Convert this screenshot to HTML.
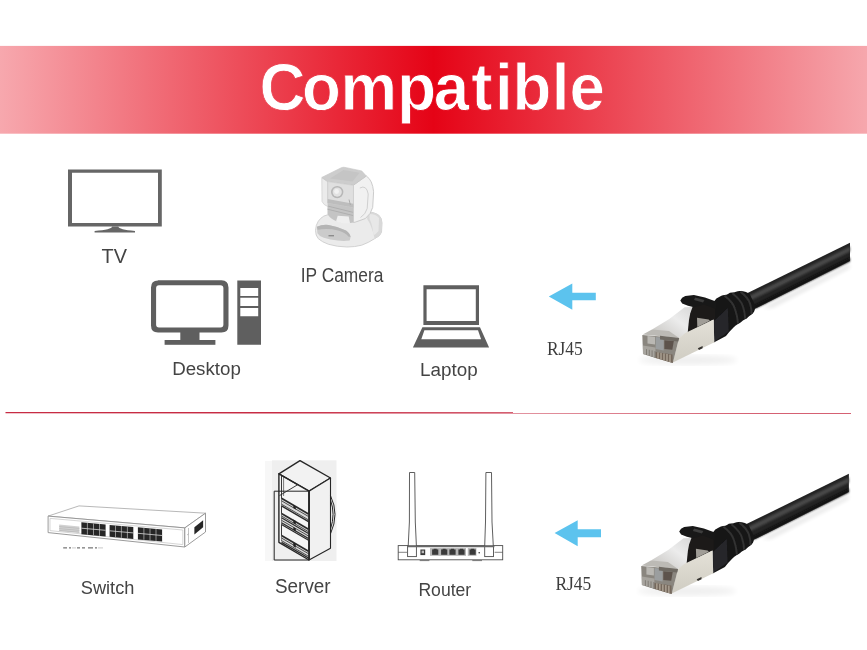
<!DOCTYPE html>
<html><head><meta charset="utf-8"><title>Compatible</title>
<style>
html,body{margin:0;padding:0;background:#fff;}
body{width:867px;height:650px;overflow:hidden;position:relative;font-family:"Liberation Sans",sans-serif;}
svg{position:absolute;left:0;top:0;display:block;}
text{font-family:"Liberation Sans",sans-serif;}
.serif{font-family:"Liberation Serif",serif;}
</style></head><body>
<svg width="867" height="650" viewBox="0 0 867 650" style="will-change:transform;opacity:0.999">
<defs>
  <linearGradient id="gBan" x1="0" x2="1" y1="0" y2="0">
    <stop offset="0" stop-color="#f7a8ae"/>
    <stop offset="0.5" stop-color="#e50316"/>
    <stop offset="1" stop-color="#f6a7ad"/>
  </linearGradient>
  <linearGradient id="gBanU" gradientUnits="userSpaceOnUse" x1="0" x2="900.3" y1="0" y2="0">
    <stop offset="0" stop-color="#f7a8ae"/>
    <stop offset="0.5" stop-color="#e50316"/>
    <stop offset="1" stop-color="#f6a7ad"/>
  </linearGradient>
  <linearGradient id="gTop" x1="0" x2="1" y1="1" y2="0">
    <stop offset="0" stop-color="#c4c2be"/>
    <stop offset="0.6" stop-color="#ececec"/>
    <stop offset="1" stop-color="#d8d8d8"/>
  </linearGradient>
  <linearGradient id="gSide" x1="0" x2="0" y1="0" y2="1">
    <stop offset="0" stop-color="#e4e1d8"/>
    <stop offset="1" stop-color="#cfccc2"/>
  </linearGradient>
  <filter id="blur1"><feGaussianBlur stdDeviation="0.8"/></filter>
  <filter id="blur05"><feGaussianBlur stdDeviation="0.5"/></filter>
  <filter id="blur3" x="-20%" y="-50%" width="140%" height="200%"><feGaussianBlur stdDeviation="2"/></filter>
  <filter id="blur2"><feGaussianBlur stdDeviation="3"/></filter>
</defs>

<!-- banner -->
<rect x="0" y="45.9" width="867" height="87.8" fill="url(#gBan)"/>
<text transform="scale(0.963,1)" x="269.42 313.60 353.58 412.51 450.47 489.36 514.02 532.14 572.85 591.38" y="109.7" font-size="66" font-weight="bold" fill="#fff" stroke="url(#gBanU)" stroke-width="0.8">Compatible</text>

<!-- divider -->
<line x1="5.5" y1="412.6" x2="851" y2="413" stroke="#c72c44" stroke-width="1.4"/>

<!-- TV -->
<g fill="#666">
  <path fill-rule="evenodd" d="M68,169.5 H161.8 V226.5 H68 Z M72,172.7 V223.1 H158 V172.7 Z"/>
  <path d="M112.2,226.5 H118.3 Q118.8,229.6 135,231 V232.5 H94.6 V231 Q111.7,229.6 112.2,226.5 Z"/>
</g>
<text x="101.6" y="263.1" font-size="20.8" fill="#444" textLength="25.4" lengthAdjust="spacingAndGlyphs">TV</text>

<!-- IP camera -->
<g stroke-linejoin="round">
  <!-- base -->
  <path d="M315.5,230.4 Q315.8,225 318.3,221.2 Q320.5,218 323.8,216.1 Q335,211.5 352,212 L367.2,212 Q374,211.8 378.3,214.8 Q382,217.5 382,223 L381.5,232.3 Q380.5,236 374.6,238.7 Q369,242.5 361.7,245.2 Q355,247 346.9,247 Q337,246.8 328.5,244.3 Q322,242 318.3,238.7 Q315.5,235.5 315.5,230.4 Z" fill="#ebebeb" stroke="#cdcdcd" stroke-width="0.9"/>
  <path d="M367.2,212 Q374,211.8 378.3,214.8 Q382,217.5 382,223 L381.5,232.3 Q380.5,236 374.6,238.7 Q372,226 367.2,219 Z" fill="#d9d9d9"/>
  <path d="M369.5,214 Q376,214 379,218 L378.5,231 Q376,234 373.5,235.5 Q372.5,224 369.5,219 Z" fill="#e8e8e8"/>
  <!-- base front panel -->
  <path d="M316.9,226.8 Q322,224.3 328.5,224.9 Q338,226.5 346,230.4 Q350,233 350.6,236.9 L349.7,240.6 Q344,241.3 337.7,240.6 Q330,239.8 323.8,237.8 Q319,236 317.4,233.2 Z" fill="#cbcbcb"/>
  <path d="M316.9,226.8 Q322,224.3 328.5,224.9 Q338,226.5 346,230.4 Q350,233 350.6,236.9 L348.3,236.6 Q346,233 338,230.5 Q328,228 317.6,229.8 Z" fill="#b4b4b4"/>
  <rect x="328.5" y="235" width="5.5" height="1.4" fill="#8c8c8c"/>
  <!-- neck -->
  <path d="M327.5,200 L353.4,205 V222.5 Q345,224 337,221.5 Q330,219 327.5,214 Z" fill="#c4c4c4"/>
  <path d="M327.5,206 L353.4,212.4 M327.5,209.2 L353.4,215.6" stroke="#adadad" stroke-width="0.9" fill="none"/>
  <path d="M337.7,215.7 L348.7,216.5 L350,223.1 Q343,224 336,221.5 Z" fill="#efefef"/>
  <!-- right yoke arm -->
  <path d="M353.4,185.2 L366.3,176 Q372.5,180 373.6,191.7 L372.7,207.4 Q371,214 365.4,218.5 L358,221.2 Q354.5,222.5 353.4,222.5 Z" fill="#f1f1f1" stroke="#c6c6c6" stroke-width="0.9"/>
  <path d="M359.8,188 Q366.5,184.5 368.2,194 L367.2,208.5 Q365.5,214.5 360.5,217.5" fill="none" stroke="#d0d0d0" stroke-width="1"/>
  <!-- left yoke strip -->
  <path d="M321.8,177.8 L327.7,181.5 V206.5 Q323.5,205 322,201.5 Z" fill="#ebebeb" stroke="#cfcfcf" stroke-width="0.7"/>
  <!-- head top -->
  <path d="M321.8,177.4 L341.4,167.7 Q343,167 345,167.4 L361.7,170.9 L366.3,176 L353.4,185.2 L327.5,181.5 Z" fill="#cdcdcd" stroke="#c2c2c2" stroke-width="0.6"/>
  <path d="M330,178.5 L343.5,170 L359.5,172.8 L352.5,181.5 Z" fill="#c5c5c5"/>
  <!-- head front -->
  <path d="M327.7,181.6 L353.4,185.3 V207.6 L327.7,202.9 Z" fill="#dfdfdf" stroke="#cacaca" stroke-width="0.6"/>
  <path d="M327.7,199 L353.4,203.8 V207.6 L327.7,202.9 Z" fill="#bdbdbd"/>
  <circle cx="337.2" cy="192.1" r="6.2" fill="#b7b7b7"/>
  <circle cx="337.2" cy="192.1" r="4.6" fill="#e2e2e2"/>
  <circle cx="336.6" cy="191.5" r="2.4" fill="#f2f2f2"/>
  <path d="M349,199.5 L350.4,205" stroke="#a8a8a8" stroke-width="0.9"/>
</g>
<text x="300.8" y="282.1" font-size="19.5" fill="#444" textLength="82.6" lengthAdjust="spacingAndGlyphs">IP Camera</text>

<!-- Desktop -->
<g fill="#5f5f5f">
  <path fill-rule="evenodd" d="M158,280.3 H221.5 Q228.5,280.5 228.5,287.5 V325.5 Q228.5,332.5 221.5,332.5 H158 Q151,332.5 151,325.5 V287.5 Q151,280.5 158,280.5 Z M159,285.2 Q156.1,285.2 156.1,288.2 V324.6 Q156.1,327.6 159,327.6 H220.4 Q223.4,327.6 223.4,324.6 V288.2 Q223.4,285.2 220.4,285.2 Z"/>
  <rect x="180.3" y="332" width="19.2" height="9"/>
  <rect x="164.6" y="340" width="50.8" height="4.8"/>
  <path fill-rule="evenodd" d="M237.3,280.5 H261 V344.8 H237.3 Z M240.3,288 H258.2 V296 H240.3 Z M240.3,297.8 H258.2 V306 H240.3 Z M240.3,308 H258.2 V316.2 H240.3 Z"/>
</g>
<text x="172.2" y="375" font-size="19.2" fill="#444" textLength="68.6" lengthAdjust="spacingAndGlyphs">Desktop</text>

<!-- Laptop -->
<g fill="#5f5f5f">
  <path fill-rule="evenodd" d="M423.4,285.3 H479 V325 H423.4 Z M426.6,289.3 V321 H475.8 V289.3 Z"/>
  <path fill-rule="evenodd" d="M422.4,327.2 H480 L489.1,347.5 H412.9 Z M424.4,330.3 L421.3,339.2 H481.1 L478,330.3 Z"/>
</g>
<text x="420" y="375.5" font-size="19.2" fill="#444" textLength="57.6" lengthAdjust="spacingAndGlyphs">Laptop</text>

<!-- arrows -->
<polygon points="548.8,296.6 572.3,283.5 572.3,292.8 595.8,292.8 595.8,300.3 572.3,300.3 572.3,309.7" fill="#5cc3ee"/>
<text class="serif" x="546.9" y="354.6" font-size="18.7" fill="#3c3c3c" textLength="35.8" lengthAdjust="spacingAndGlyphs">RJ45</text>
<polygon points="554.6,533 577.7,520.3 577.7,529.2 601,529.2 601,537.2 577.7,537.2 577.7,546.2" fill="#5cc3ee"/>
<text class="serif" x="555.4" y="590" font-size="18.7" fill="#3c3c3c" textLength="35.8" lengthAdjust="spacingAndGlyphs">RJ45</text>

<!-- Switch -->
<g fill="none" stroke="#8f8f8f" stroke-width="0.9">
  <polygon points="48.1,516.1 79,505.9 205.5,513.2 184.8,527.9" fill="#fff" stroke="#b0b0b0"/>
  <polygon points="48.1,516.1 184.8,527.9 184.8,547 48.1,532.6" fill="#fff"/>
  <polygon points="184.8,527.9 205.5,513.2 205.5,532 184.8,547" fill="#fff"/>
  <polygon points="50,518.4 182.8,530 182.8,544.6 50,530.6" stroke="#c4c4c4" stroke-width="0.7"/>
  <path d="M188.5,528 V543 M187,535 l2,-1.4" stroke="#aaa" stroke-width="0.7"/>
</g>
<polygon points="59.2,524.6 79.4,526.4 79.4,533 59.2,531.2" fill="#d2d2d2"/>
<path d="M59.2,526.6 L79.4,528.4 M59.2,528.6 L79.4,530.4 M59.2,530.4 L79.4,532.2" stroke="#b0b0b0" stroke-width="0.6"/>
<g fill="#262626">
  <polygon points="81.4,522.3 105.6,524.4 105.6,536.4 81.4,534.2"/>
  <polygon points="109.6,524.9 133.3,527 133.3,539 109.6,536.8"/>
  <polygon points="137.9,527.3 162.1,529.5 162.1,541.6 137.9,539.4"/>
  <polygon points="194.4,527.3 203.1,520.2 203.1,527.3 194.4,534.4"/>
</g>
<g stroke="#d8d8d8" stroke-width="0.8" fill="none">
  <path d="M81.4,528.2 L105.6,530.3 M109.6,530.8 L133.3,532.9 M137.9,533.3 L162.1,535.5"/>
  <path d="M87.4,523 V534.6 M93.5,523.5 V535.2 M99.5,524 V535.8 M115.5,525.5 V537.2 M121.4,526 V537.8 M127.4,526.5 V538.4 M143.9,528 V539.8 M150,528.5 V540.4 M156,529 V541" stroke-width="0.6"/>
</g>
<path d="M63.2,547.9 H67 M69,547.9 H71 M77,547.9 H80 M82,547.9 H85 M88,547.9 H93 M95,547.9 H97" stroke="#555" stroke-width="1"/>
<path d="M72,547.9 H76 M98,547.9 H103" stroke="#bbb" stroke-width="0.8"/>
<text x="80.8" y="594" font-size="19.2" fill="#444" textLength="53.6" lengthAdjust="spacingAndGlyphs">Switch</text>

<!-- Server -->
<rect x="272" y="460.3" width="64.5" height="100.7" fill="#efefef"/>
<rect x="265" y="461" width="7" height="100" fill="#f7f7f7"/>
<g fill="none" stroke="#262626" stroke-width="1.4" stroke-linejoin="round">
  <polygon points="278.9,473.8 300,460.7 330.5,478 309,491.2" fill="#f2f2f2"/>
  <polygon points="309,491.2 330.5,478 330.5,548.2 309,560" fill="#f1f1f1" stroke-width="1.1"/>
  <polygon points="278.9,473.8 309,491.2 309,560 278.9,542.3" fill="#f5f5f5"/>
  <path d="M281.5,475.4 V541.4" stroke-width="0.9"/>
  <path d="M281.5,475.4 L297.5,484.8 L279.5,495.6" stroke-width="0.9"/>
  <path d="M283.6,477 V496" stroke-width="0.6"/>
</g>
<polygon points="281.5,498.3 308.5,514.0 308.5,521.6 281.5,505.9" fill="#d9d9d9"/>
<polygon points="281.5,513.5 308.5,529.2 308.5,540.2 281.5,524.5" fill="#d9d9d9"/>
<polygon points="281.5,535.5 308.5,551.2 308.5,558.0 281.5,542.3" fill="#d9d9d9"/>
<path d="M281.5,498.3 L308.5,514.0" stroke="#2a2a2a" stroke-width="1.6"/>
<path d="M281.5,500.8 L308.5,516.5" stroke="#2a2a2a" stroke-width="0.8"/>
<path d="M281.5,504.2 L308.5,519.9" stroke="#2a2a2a" stroke-width="0.8"/>
<path d="M281.5,505.9 L308.5,521.6" stroke="#2a2a2a" stroke-width="1.4"/>
<path d="M281.5,513.5 L308.5,529.2" stroke="#2a2a2a" stroke-width="1.6"/>
<path d="M281.5,516.0 L308.5,531.7" stroke="#2a2a2a" stroke-width="0.8"/>
<path d="M281.5,517.7 L308.5,533.4" stroke="#2a2a2a" stroke-width="1.2"/>
<path d="M281.5,520.3 L308.5,536.0" stroke="#2a2a2a" stroke-width="0.8"/>
<path d="M281.5,522.8 L308.5,538.5" stroke="#2a2a2a" stroke-width="1.2"/>
<path d="M281.5,524.5 L308.5,540.2" stroke="#2a2a2a" stroke-width="1.2"/>
<path d="M281.5,535.5 L308.5,551.2" stroke="#2a2a2a" stroke-width="1.6"/>
<path d="M281.5,538.0 L308.5,553.7" stroke="#2a2a2a" stroke-width="0.8"/>
<path d="M281.5,540.6 L308.5,556.3" stroke="#2a2a2a" stroke-width="0.8"/>
<path d="M281.5,542.3 L308.5,558.0" stroke="#2a2a2a" stroke-width="1.4"/>

<g fill="#222">
  <polygon points="293.3,505 295.8,506.5 295.8,509.5 293.3,508"/>
  <polygon points="293.3,519.4 295.8,520.9 295.8,524.4 293.3,522.9"/>
  <polygon points="293.3,527 295.8,528.5 295.8,531.5 293.3,530"/>
  <polygon points="293.3,542.3 295.8,543.8 295.8,547.8 293.3,546.3"/>
</g>
<g fill="none" stroke="#262626" stroke-width="1.1">
  <path d="M309,491.2 V560" stroke-width="1.3"/>
  <polygon points="274.2,491.2 309,491.2 309,560 274.2,560" stroke-width="1"/>
  <path d="M330.5,495.7 Q339.5,514 330.5,533.8 M330.5,500 Q335.6,514 330.5,529" stroke-width="1"/>
</g>
<text x="275" y="592.5" font-size="20" fill="#444" textLength="55.6" lengthAdjust="spacingAndGlyphs">Server</text>

<!-- Router -->
<g fill="#fff" stroke="#4d4d4d" stroke-width="0.9">
  <rect x="398.2" y="545.6" width="104.5" height="14.2"/>
  <path d="M398.2,552.3 H407 M494.6,552.3 H502.7" stroke-width="0.7"/>
  <polygon points="409.5,472.5 414.7,472.5 415.3,522 416.4,546 408.2,546 409.4,522"/>
  <polygon points="485.9,472.5 491.5,472.5 492,522 493.3,546 484.7,546 485.5,522"/>
  <rect x="407.6" y="546" width="8.8" height="10.6"/>
  <rect x="484.7" y="546" width="8.8" height="10.6"/>
  <path d="M407,546.6 H494.4" stroke-width="1.2" stroke="#666"/>
  <path d="M419.7,560.6 H429.4 M472.3,560.6 H482" stroke-width="1" stroke="#777"/>
</g>
<rect x="430" y="548.1" width="36" height="7.7" fill="#b5b5b5"/>
<rect x="467.8" y="548.1" width="8.6" height="7.7" fill="#b5b5b5"/>
<rect x="420.4" y="549.5" width="4.8" height="5.6" fill="#3a3a3a"/>
<rect x="421.6" y="550.6" width="2.4" height="2.6" fill="#bbb"/>
<circle cx="479.2" cy="552.7" r="0.8" fill="#333"/>
<rect x="432.1" y="549.4" width="6.2" height="5.4" fill="#3a3a3a"/>
<rect x="433.7" y="548.8" width="3.0" height="1.6" fill="#3a3a3a"/>
<rect x="441.1" y="549.4" width="6.2" height="5.4" fill="#3a3a3a"/>
<rect x="442.7" y="548.8" width="3.0" height="1.6" fill="#3a3a3a"/>
<rect x="449.4" y="549.4" width="6.2" height="5.4" fill="#3a3a3a"/>
<rect x="451.0" y="548.8" width="3.0" height="1.6" fill="#3a3a3a"/>
<rect x="458.4" y="549.4" width="6.2" height="5.4" fill="#3a3a3a"/>
<rect x="460.0" y="548.8" width="3.0" height="1.6" fill="#3a3a3a"/>
<rect x="469.5" y="549.4" width="6.2" height="5.4" fill="#3a3a3a"/>
<rect x="471.1" y="548.8" width="3.0" height="1.6" fill="#3a3a3a"/>
<text x="418.4" y="595.7" font-size="19.2" fill="#444" textLength="52.8" lengthAdjust="spacingAndGlyphs">Router</text>

<!-- cables -->
<g transform="translate(0,0)">
<g>
  <!-- soft shadows -->
  <ellipse cx="688" cy="360" rx="50" ry="5" fill="#000" opacity="0.07" filter="url(#blur2)"/>
  <polygon points="762,308 850,263.5 850,268 772,308" fill="#000" opacity="0.10" filter="url(#blur3)"/>
  <!-- cable -->
  <polygon points="745,294.3 850,242.8 850,261 755,308.8" fill="#232323"/>
  <polygon points="748,296.5 850,246.5 850,251.5 750,300.8" fill="#484848" filter="url(#blur1)"/>
  <polygon points="753,306 850,257.5 850,261.3 755,308.6" fill="#0e0e0e" filter="url(#blur1)"/>
  <!-- boot -->
  <path d="M713.6,302 L716.4,298.6 L720,296.6 Q722,294.9 724.4,295 Q726.5,295 728,294 Q730,292.5 732.4,292.6 Q734.5,292.7 736,291.8 Q738,290.8 740.4,291 Q743,291.2 746,292 L749.5,293.8 L755.5,306 L754.8,309.8 Q754.5,312.5 751.6,314.4 Q749,316 748,317.2 Q747,318.5 745.2,319.2 Q742.5,320.5 741.5,321.8 Q740,323.3 738,324 Q735,325.5 733.5,327.5 L729.2,332 L726,336 L713.8,342.6 Z" fill="#161616"/>
  <path d="M724.4,295.6 Q733,302 735,309 Q737.5,316 738,323.5 M732.4,293.2 Q741,300 743,306.5 Q745,312.5 745.2,318.8 M740.4,291.6 Q748,297.5 750,303.5 Q751.6,308.5 751.6,314" stroke="#313131" stroke-width="2" fill="none" filter="url(#blur05)"/>
  <polygon points="714.2,321 727.8,308 728.6,331.6 714.2,341.6" fill="#27272c" filter="url(#blur05)"/>
  <!-- top metal -->
  <polygon points="652,329.4 669.3,318.9 684.6,307.2 693,307 690.5,314.6 689,326.9 687.7,332.5 679.1,338" fill="url(#gTop)"/>
  <!-- dark gap under clip -->
  <polygon points="692.7,306.5 705,303 715,306 715,319 687.7,332.7 689,320 690.2,313.4" fill="#1c1a19"/>
  <polygon points="697,317.7 708.7,319.4 709.9,320.8 697.3,326.9" fill="#a09d97"/>
  <!-- clip -->
  <path d="M680.3,300.5 Q681.5,297.2 685.3,296 L693.9,294.9 L705,297.6 L716,301.4 L716,309 L704,304.5 L693.9,307.3 L688,305.8 L682.2,303.6 Z" fill="#181818"/>
  <path d="M695.1,297.4 L704.5,300 L703,302.5 L694,300 Z" fill="#3c3c3c" filter="url(#blur05)"/>
  <!-- side metal -->
  <polygon points="679.1,338 685.3,333.1 713.4,319.6 714.4,342.2 672.8,362.6" fill="url(#gSide)"/>
  <polygon points="697.8,348.2 702.6,346 702.6,348.2 699,350" fill="#35332f"/>
  <!-- plug top -->
  <polygon points="642.7,334.5 652,329.4 669,331 679.1,338" fill="#bcbab5"/>
  <!-- plug front -->
  <polygon points="642.3,335 679.1,338 672.8,363 643,354" fill="#8a867f"/>
  <polygon points="647.5,336 655,336.7 655,344.5 647.5,343.5" fill="#bab8b3"/>
  <polygon points="655.6,337 663.7,337.8 663.7,350.5 655.6,349" fill="#9b9e9f"/>
  <polygon points="664.4,340.3 673.8,341 672.3,349.8 664.4,349" fill="#5d534c"/>
  <polygon points="660,335.8 679.1,338 678.3,341.5 660,339.5" fill="#6f6a63"/>
  <polygon points="643,345.5 655.5,347.5 655.5,358 643,354" fill="#a7a49e"/>
  <polygon points="655.5,352 672.5,354.5 672.8,363 655.5,358" fill="#75685c"/>
  <path d="M646.5,349.2v5.8 M649.3,349.8v6.2 M652.1,350.4v6.6 M655,351v7" stroke="#7d7870" stroke-width="0.9"/>
  <path d="M658,352.3v6.4 M661,352.8v6.8 M664,353.4v7 M667,354v7.2 M670,354.6v7.4" stroke="#c4baab" stroke-width="1"/>
</g>
</g><g transform="translate(-1.1,231)">
<g>
  <!-- soft shadows -->
  <ellipse cx="688" cy="360" rx="50" ry="5" fill="#000" opacity="0.07" filter="url(#blur2)"/>
  <polygon points="762,308 850,263.5 850,268 772,308" fill="#000" opacity="0.10" filter="url(#blur3)"/>
  <!-- cable -->
  <polygon points="745,294.3 850,242.8 850,261 755,308.8" fill="#232323"/>
  <polygon points="748,296.5 850,246.5 850,251.5 750,300.8" fill="#484848" filter="url(#blur1)"/>
  <polygon points="753,306 850,257.5 850,261.3 755,308.6" fill="#0e0e0e" filter="url(#blur1)"/>
  <!-- boot -->
  <path d="M713.6,302 L716.4,298.6 L720,296.6 Q722,294.9 724.4,295 Q726.5,295 728,294 Q730,292.5 732.4,292.6 Q734.5,292.7 736,291.8 Q738,290.8 740.4,291 Q743,291.2 746,292 L749.5,293.8 L755.5,306 L754.8,309.8 Q754.5,312.5 751.6,314.4 Q749,316 748,317.2 Q747,318.5 745.2,319.2 Q742.5,320.5 741.5,321.8 Q740,323.3 738,324 Q735,325.5 733.5,327.5 L729.2,332 L726,336 L713.8,342.6 Z" fill="#161616"/>
  <path d="M724.4,295.6 Q733,302 735,309 Q737.5,316 738,323.5 M732.4,293.2 Q741,300 743,306.5 Q745,312.5 745.2,318.8 M740.4,291.6 Q748,297.5 750,303.5 Q751.6,308.5 751.6,314" stroke="#313131" stroke-width="2" fill="none" filter="url(#blur05)"/>
  <polygon points="714.2,321 727.8,308 728.6,331.6 714.2,341.6" fill="#27272c" filter="url(#blur05)"/>
  <!-- top metal -->
  <polygon points="652,329.4 669.3,318.9 684.6,307.2 693,307 690.5,314.6 689,326.9 687.7,332.5 679.1,338" fill="url(#gTop)"/>
  <!-- dark gap under clip -->
  <polygon points="692.7,306.5 705,303 715,306 715,319 687.7,332.7 689,320 690.2,313.4" fill="#1c1a19"/>
  <polygon points="697,317.7 708.7,319.4 709.9,320.8 697.3,326.9" fill="#a09d97"/>
  <!-- clip -->
  <path d="M680.3,300.5 Q681.5,297.2 685.3,296 L693.9,294.9 L705,297.6 L716,301.4 L716,309 L704,304.5 L693.9,307.3 L688,305.8 L682.2,303.6 Z" fill="#181818"/>
  <path d="M695.1,297.4 L704.5,300 L703,302.5 L694,300 Z" fill="#3c3c3c" filter="url(#blur05)"/>
  <!-- side metal -->
  <polygon points="679.1,338 685.3,333.1 713.4,319.6 714.4,342.2 672.8,362.6" fill="url(#gSide)"/>
  <polygon points="697.8,348.2 702.6,346 702.6,348.2 699,350" fill="#35332f"/>
  <!-- plug top -->
  <polygon points="642.7,334.5 652,329.4 669,331 679.1,338" fill="#bcbab5"/>
  <!-- plug front -->
  <polygon points="642.3,335 679.1,338 672.8,363 643,354" fill="#8a867f"/>
  <polygon points="647.5,336 655,336.7 655,344.5 647.5,343.5" fill="#bab8b3"/>
  <polygon points="655.6,337 663.7,337.8 663.7,350.5 655.6,349" fill="#9b9e9f"/>
  <polygon points="664.4,340.3 673.8,341 672.3,349.8 664.4,349" fill="#5d534c"/>
  <polygon points="660,335.8 679.1,338 678.3,341.5 660,339.5" fill="#6f6a63"/>
  <polygon points="643,345.5 655.5,347.5 655.5,358 643,354" fill="#a7a49e"/>
  <polygon points="655.5,352 672.5,354.5 672.8,363 655.5,358" fill="#75685c"/>
  <path d="M646.5,349.2v5.8 M649.3,349.8v6.2 M652.1,350.4v6.6 M655,351v7" stroke="#7d7870" stroke-width="0.9"/>
  <path d="M658,352.3v6.4 M661,352.8v6.8 M664,353.4v7 M667,354v7.2 M670,354.6v7.4" stroke="#c4baab" stroke-width="1"/>
</g>
</g>
</svg>
</body></html>
